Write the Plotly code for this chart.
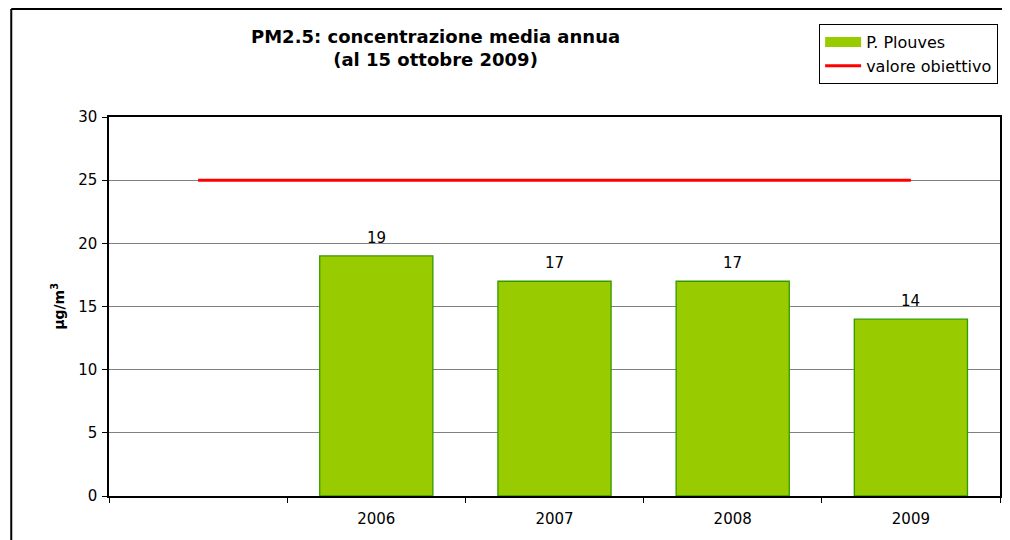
import plotly.graph_objects as go

categories = [" ", "2006", "2007", "2008", "2009"]
pm25_values = [None, 19, 17, 17, 14]
target_values = [25, 25, 25, 25, 25]
bar_labels = ["", "19", "17", "17", "14"]

FONT = "DejaVu Sans, Verdana, sans-serif"

fig = go.Figure()

fig.add_trace(
    go.Bar(
        x=categories,
        y=pm25_values,
        name="P. Plouves",
        marker=dict(color="#99CC00", line=dict(color="#339900", width=1.3)),
        width=0.635,
        showlegend=False,
    )
)
# legend-only entry so the bar key looks like a wide swatch
fig.add_trace(
    go.Scatter(
        x=[None],
        y=[None],
        mode="lines",
        name="P. Plouves",
        line=dict(color="#99CC00", width=10),
    )
)
fig.add_trace(
    go.Scatter(
        x=categories,
        y=target_values,
        mode="lines",
        name="valore obiettivo",
        line=dict(color="#FF0000", width=3),
    )
)

# value labels above the bars (x given as category index, year strings look numeric)
label_annotations = [
    dict(
        x=i, y=val, text=lab, xref="x", yref="y",
        yanchor="bottom", yshift=7, showarrow=False,
        font=dict(size=15, color="black"),
    )
    for i, (val, lab) in enumerate(zip(pm25_values, bar_labels))
    if val is not None
]

fig.update_layout(
    width=1002,
    height=532,
    margin=dict(l=101, r=8, t=109, b=44),
    paper_bgcolor="white",
    plot_bgcolor="white",
    font=dict(family=FONT, size=15, color="black"),
    showlegend=True,
    legend=dict(
        x=0.797,
        y=1.245,
        xanchor="left",
        yanchor="top",
        bordercolor="black",
        borderwidth=1,
        bgcolor="white",
        font=dict(size=16),
        tracegroupgap=0,
        itemwidth=36,
    ),
    annotations=label_annotations + [
        dict(
            text="<b>PM2.5: concentrazione media annua<br>(al 15 ottobre 2009)</b>",
            xref="paper",
            yref="paper",
            x=0.367,
            y=1.182,
            xanchor="center",
            yanchor="middle",
            showarrow=False,
            font=dict(size=18),
        ),
        dict(
            text="<b>µg/m<sup>3</sup></b>",
            xref="paper",
            yref="paper",
            x=-0.058,
            y=0.5,
            xanchor="center",
            yanchor="middle",
            textangle=-90,
            showarrow=False,
            font=dict(size=14),
        ),
    ],
    shapes=[
        dict(type="line", xref="paper", yref="paper", x0=-0.1097, x1=1.05,
             y0=1.285, y1=1.285, line=dict(color="black", width=2)),
        dict(type="line", xref="paper", yref="paper", x0=-0.1097, x1=-0.1097,
             y0=1.285, y1=-0.2, line=dict(color="black", width=2)),
    ],
)

fig.update_xaxes(
    type="category",
    categoryorder="array",
    categoryarray=categories,
    range=[-0.5, len(categories) - 0.5],
    tickson="boundaries",
    ticks="outside",
    ticklen=5,
    tickcolor="black",
    ticklabelstandoff=8,
    showline=True,
    linecolor="black",
    linewidth=1.5,
    mirror=True,
    showgrid=False,
    tickfont=dict(size=15),
)
fig.update_yaxes(
    range=[0, 30],
    dtick=5,
    ticks="outside",
    ticklen=5,
    tickcolor="black",
    ticklabelstandoff=2,
    showline=True,
    linecolor="black",
    linewidth=1.5,
    mirror=True,
    showgrid=True,
    gridcolor="#808080",
    gridwidth=1,
    zeroline=False,
    tickfont=dict(size=15),
)

fig.write_html("out.html")
